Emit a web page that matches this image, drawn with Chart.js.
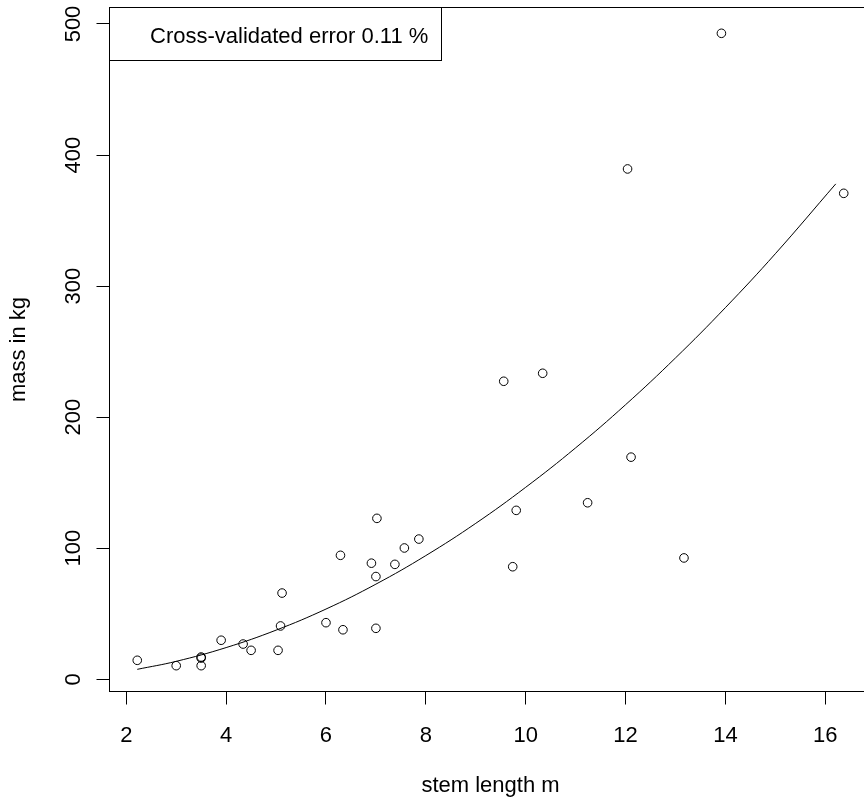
<!DOCTYPE html>
<html>
<head>
<meta charset="utf-8">
<script src="https://cdn.jsdelivr.net/npm/chart.js@4.4.1/dist/chart.umd.min.js"></script>
<style>
  html, body { margin: 0; padding: 0; background: #ffffff; overflow: hidden; }
  #wrap { width: 880px; height: 805px; }
</style>
</head>
<body>
<div id="wrap"><canvas id="c" width="880" height="805"></canvas></div>
<script>
// ---- data ----
const stemLength = [2.22, 3.0, 3.5, 3.5, 3.5, 3.90, 4.34, 4.50, 5.04, 5.09, 5.12,
  6.0, 6.34, 6.29, 6.91, 7.0, 7.0, 7.02, 7.38, 7.57, 7.86,
  9.56, 9.74, 9.81, 10.34, 11.24, 12.04, 12.11, 13.17, 13.92, 16.37];
const massKg = [14.5, 10.4, 16.2, 17.0, 10.4, 29.8, 26.9, 22.1, 22.1, 40.7, 65.8,
  43.2, 37.8, 94.6, 88.6, 78.4, 38.9, 122.8, 87.7, 100.2, 107.0,
  227.4, 85.9, 128.9, 233.5, 134.7, 389.4, 169.5, 92.6, 492.9, 370.8];

// fitted curve
const fitX = [2.22, 3, 4, 5, 6, 7, 8, 9, 10, 11, 12, 13, 14, 15, 16.21];
const fitY = [7.6, 13.7, 24.2, 37.5, 53.6, 72.6, 94.4, 119, 146.5, 176.6, 209.5, 245.2, 283.6, 324.7, 378];

const xTicks = [2, 4, 6, 8, 10, 12, 14, 16];
const yTicks = [0, 100, 200, 300, 400, 500];

const legendText = 'Cross-validated error 0.11 %';
const xTitle = 'stem length m';
const yTitle = 'mass in kg';

const FONT = '"Liberation Sans", Arial, sans-serif';
const FS = 22;

const points = stemLength.map((x, i) => ({ x: x, y: massKg[i] }));
const curve = fitX.map((x, i) => ({ x: x, y: fitY[i] }));

const boxPlugin = {
  id: 'rbox',
  afterDraw(chart) {
    const ctx = chart.ctx;
    const a = chart.chartArea;
    ctx.save();
    ctx.strokeStyle = '#000';
    ctx.lineWidth = 1;
    const l = Math.round(a.left) + 0.5, t = Math.round(a.top) + 0.5;
    const r = Math.round(a.right) + 0.5, b = Math.round(a.bottom) - 0.5;
    ctx.strokeRect(l, t, r - l, b - t);
    // legend box (topleft)
    const lw = 332, lh = 53;
    ctx.fillStyle = '#fff';
    ctx.fillRect(l, t, lw, lh);
    ctx.strokeRect(l, t, lw, lh);
    ctx.fillStyle = '#000';
    ctx.font = FS + 'px ' + FONT;
    ctx.textAlign = 'left';
    ctx.textBaseline = 'alphabetic';
    ctx.fillText(legendText, l + 40.5, t + 35.8);
    ctx.restore();
  }
};

new Chart(document.getElementById('c'), {
  data: {
    datasets: [
      {
        type: 'scatter',
        data: points,
        pointStyle: 'circle',
        pointRadius: 4.3,
        pointBorderWidth: 1,
        pointBorderColor: '#000',
        pointBackgroundColor: 'rgba(0,0,0,0)',
        showLine: false
      },
      {
        type: 'line',
        data: curve,
        borderColor: '#000',
        borderWidth: 1,
        pointRadius: 0,
        fill: false,
        tension: 0.4
      }
    ]
  },
  options: {
    responsive: false,
    animation: false,
    devicePixelRatio: 1,
    events: [],
    layout: { padding: { left: 0, right: 8, top: 7, bottom: 0 } },
    plugins: { legend: { display: false }, tooltip: { enabled: false }, title: { display: false } },
    scales: {
      x: {
        type: 'linear',
        position: 'bottom',
        min: 1.654,
        max: 16.936,
        afterBuildTicks: s => { s.ticks = xTicks.map(v => ({ value: v })); },
        afterFit: s => { s.height = 113; s.paddingLeft = 0; s.paddingRight = 0; },
        grid: { display: true, drawOnChartArea: false, drawTicks: true, tickLength: 12.5, color: '#000', lineWidth: 1 },
        border: { display: false },
        ticks: { font: { family: FONT, size: FS }, color: '#000', padding: 18.1, maxRotation: 0, minRotation: 0, autoSkip: false },
        title: { display: true, text: xTitle, color: '#000', font: { family: FONT, size: FS }, padding: { top: 0, bottom: 6.3 } }
      },
      y: {
        type: 'linear',
        position: 'left',
        min: -9.69,
        max: 512.97,
        afterBuildTicks: s => { s.ticks = yTicks.map(v => ({ value: v })); },
        afterFit: s => { s.width = 109; s.paddingTop = 0; s.paddingBottom = 0; },
        grid: { display: true, drawOnChartArea: false, drawTicks: true, tickLength: 12.5, color: '#000', lineWidth: 1 },
        border: { display: false },
        ticks: { font: { family: FONT, size: FS }, color: '#000', padding: 4.2, minRotation: 90, maxRotation: 90, crossAlign: 'center', autoSkip: false },
        title: { display: true, text: yTitle, color: '#000', font: { family: FONT, size: FS }, padding: { top: 6.1, bottom: 0 } }
      }
    }
  },
  plugins: [boxPlugin]
});
</script>
</body>
</html>
